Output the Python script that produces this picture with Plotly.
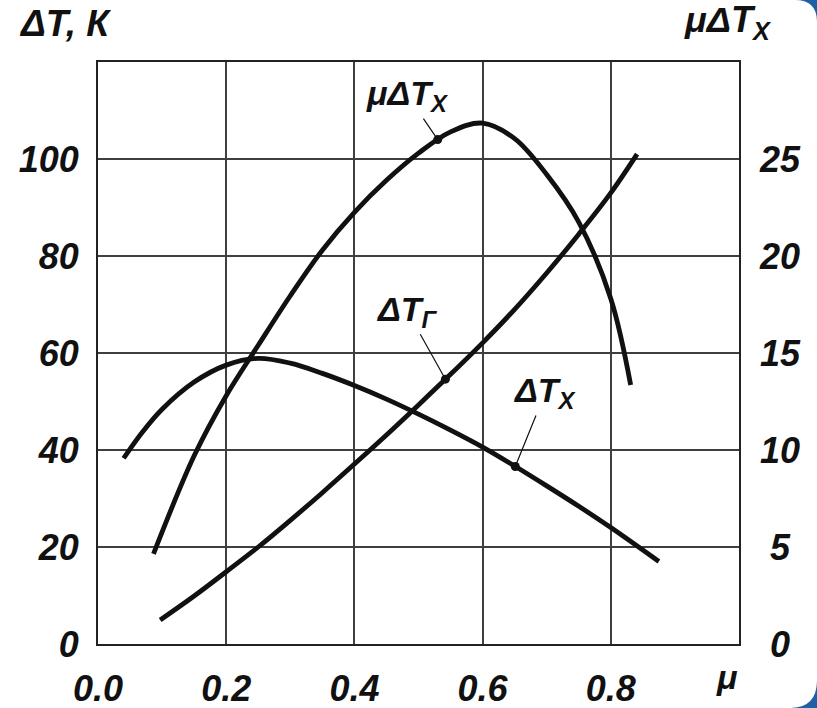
import plotly.graph_objects as go

# ---- data ----
# ΔTx curve (left axis, K)
mu_tx = [0.04, 0.07, 0.10, 0.15, 0.20, 0.25, 0.30, 0.35, 0.40, 0.45, 0.50, 0.55, 0.60, 0.65, 0.70, 0.75, 0.80, 0.875]
dt_x = [38.3, 43.8, 48.4, 54.0, 57.5, 58.9, 57.9, 55.8, 53.3, 50.5, 47.4, 44.1, 40.6, 36.7, 32.6, 28.4, 24.0, 17.0]

# ΔTг curve (left axis, K)
mu_tg = [0.097, 0.15, 0.20, 0.25, 0.30, 0.35, 0.40, 0.45, 0.50, 0.55, 0.60, 0.65, 0.70, 0.75, 0.80, 0.841]
dt_g = [4.95, 9.9, 14.9, 20.0, 25.5, 31.2, 37.1, 43.1, 49.3, 55.6, 62.1, 69.0, 76.5, 84.5, 93.0, 101.0]

# μΔTx curve (right axis)
mu_mtx = [0.0866, 0.15, 0.20, 0.25, 0.30, 0.35, 0.40, 0.45, 0.50, 0.55, 0.60, 0.65, 0.70, 0.75, 0.80, 0.831]
mu_dt_x = [4.65, 9.7, 12.8, 15.4, 17.95, 20.3, 22.25, 23.9, 25.3, 26.4, 26.85, 26.05, 24.2, 21.75, 17.8, 13.35]

# label marker points on curves
mark_left_mu = [0.542, 0.651]
mark_left_val = [54.6, 36.6]
mark_right_mu = [0.53]
mark_right_val = [26.0]

x_ticks = [0.0, 0.2, 0.4, 0.6, 0.8]
x_tick_labels = ["0.0", "0.2", "0.4", "0.6", "0.8"]
y_left_ticks = [0, 20, 40, 60, 80, 100]
y_left_labels = ["0", "20", "40", "60", "80", "100"]
y_right_ticks = [0, 5, 10, 15, 20, 25]
y_right_labels = ["\u00a00", "\u00a05", "10", "15", "20", "25"]

FAM = "Liberation Sans, Arial, sans-serif"
TICKFONT = dict(family=FAM, size=36, color="#111111", weight="bold", style="italic")
LBLFONT = dict(family=FAM, size=34, color="#111111", weight="bold", style="italic")

LINE = dict(color="#111111", width=4.8, shape="spline", smoothing=1.0)

fig = go.Figure()
fig.add_trace(go.Scatter(x=mu_tx, y=dt_x, mode="lines", line=LINE, showlegend=False, hoverinfo="skip"))
fig.add_trace(go.Scatter(x=mu_tg, y=dt_g, mode="lines", line=LINE, showlegend=False, hoverinfo="skip"))
fig.add_trace(go.Scatter(x=mu_mtx, y=mu_dt_x, mode="lines", line=LINE, yaxis="y2", showlegend=False, hoverinfo="skip"))
fig.add_trace(go.Scatter(x=mark_left_mu, y=mark_left_val, mode="markers",
                         marker=dict(color="#111111", size=9), showlegend=False, hoverinfo="skip"))
fig.add_trace(go.Scatter(x=mark_right_mu, y=mark_right_val, mode="markers", yaxis="y2",
                         marker=dict(color="#111111", size=9), showlegend=False, hoverinfo="skip"))

GRID = "#3f3f3f"
fig.update_layout(
    width=817, height=708,
    margin=dict(l=98, r=78, t=62, b=64, autoexpand=False),
    paper_bgcolor="white", plot_bgcolor="white",
    xaxis=dict(range=[0, 1.0], tickvals=x_ticks, ticktext=x_tick_labels, automargin=False,
               showgrid=True, gridcolor=GRID, gridwidth=1.6, zeroline=False,
               showline=True, linecolor="#222222", linewidth=2, mirror=True,
               ticks="", tickfont=TICKFONT, ticklabelstandoff=12),
    yaxis=dict(range=[0, 120], tickvals=y_left_ticks, ticktext=y_left_labels, automargin=False,
               showgrid=True, gridcolor=GRID, gridwidth=1.6, zeroline=False,
               showline=True, linecolor="#222222", linewidth=2, mirror=True,
               ticks="", tickfont=TICKFONT, ticklabelstandoff=10),
    yaxis2=dict(range=[0, 30], tickvals=y_right_ticks, ticktext=y_right_labels, automargin=False,
                overlaying="y", side="right", showgrid=False, zeroline=False,
                showline=False, ticks="", tickfont=TICKFONT, ticklabelstandoff=20),
)

# blue slide corners (decoration) on the right side
CORNER = "#1f5fa6"
fig.add_shape(type="path", xref="paper", yref="paper", layer="above",
              path="M 1.0874,1.1065 Q 1.1217,1.1065 1.1217,1.0687 L 1.1217,1.1065 Z",
              fillcolor=CORNER, line=dict(width=0))
fig.add_shape(type="path", xref="paper", yref="paper", layer="above",
              path="M 1.0796,-0.110 Q 1.1217,-0.110 1.1217,-0.0619 L 1.1217,-0.110 Z",
              fillcolor=CORNER, line=dict(width=0))

annots = [
    dict(x=mark_right_mu[0], y=mark_right_val[0], xref="x", yref="y2", text="μΔT<sub>X</sub>",
         ax=-30, ay=-44),
    dict(x=mark_left_mu[0], y=mark_left_val[0], xref="x", yref="y", text="ΔT<sub>Г</sub>",
         ax=-38, ay=-68),
    dict(x=mark_left_mu[1], y=mark_left_val[1], xref="x", yref="y", text="ΔT<sub>X</sub>",
         ax=30, ay=-74),
]
for a in annots:
    a.update(showarrow=True, arrowhead=0, arrowwidth=1.2, arrowcolor="#111111",
             standoff=0, font=LBLFONT)
    fig.add_annotation(**a)

# axis titles
fig.add_annotation(xref="paper", yref="paper", x=-0.126, y=1.066, xanchor="left", yanchor="middle",
                   text="ΔT, К", showarrow=False, font=dict(TICKFONT, size=37))
fig.add_annotation(xref="paper", yref="paper", x=0.983, y=1.068, xanchor="center", yanchor="middle",
                   text="μΔT<sub>X</sub>", showarrow=False, font=dict(TICKFONT, size=36))
fig.add_annotation(xref="x", yref="paper", x=0.981, y=-0.057, xanchor="center", yanchor="middle",
                   text="μ", showarrow=False, font=dict(TICKFONT, size=34))

fig.write_html("out.html", config={"displayModeBar": False},
               post_script="document.body.style.margin='0px';")
